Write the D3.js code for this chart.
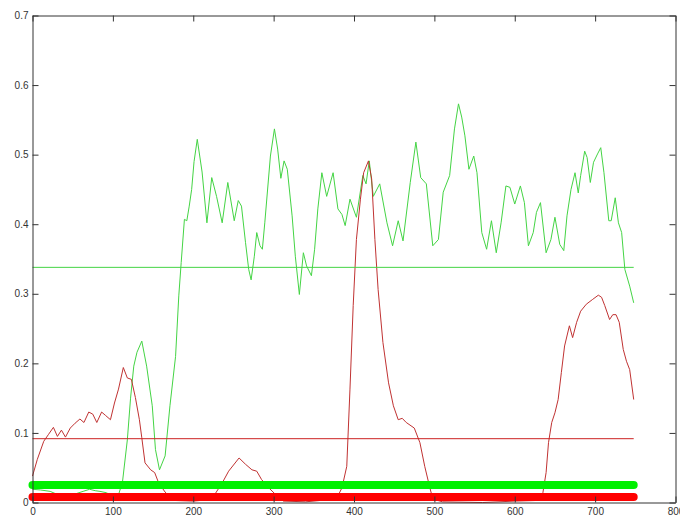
<!DOCTYPE html>
<html>
<head>
<meta charset="utf-8">
<script src="https://cdn.jsdelivr.net/npm/d3@7"></script>
<style>
    body { margin: 0; background: #fff; }
    svg { display: block; }
    .tick text { font-family: "Liberation Sans", Arial, sans-serif; font-size: 10px; fill: #333; }
</style>
</head>
<body>
<svg id="chart" width="680" height="518"></svg>
<script>
// values (x = sample index, y = level)
const greenX = [0, 10, 22, 30, 43, 55, 63, 71, 78, 84, 92, 100, 107, 112, 118, 122, 126, 130, 136, 142, 149, 153, 158, 165, 171, 178, 182, 185, 189, 192, 195, 198, 201, 205, 211, 217, 223, 229, 236, 243, 251, 256, 260, 265, 269, 272, 276, 279, 283, 286, 289, 296, 301, 305, 309, 313, 317, 323, 327, 332, 337, 341, 347, 351, 355, 360, 366, 374, 380, 385, 389, 395, 403, 411, 415, 419, 424, 432, 441, 448, 455, 461, 470, 477, 483, 490, 498, 505, 511, 519, 525, 530, 534, 538, 543, 549, 553, 559, 565, 571, 577, 583, 589, 594, 600, 607, 612, 617, 623, 627, 632, 639, 645, 650, 656, 661, 665, 670, 675, 679, 682, 687, 690, 694, 698, 703, 707, 711, 717, 720, 725, 729, 733, 737, 743, 748];
const greenY = [0.019, 0.018, 0.016, 0.012, 0.009, 0.013, 0.016, 0.019, 0.017, 0.016, 0.014, 0.009, 0.011, 0.030, 0.090, 0.150, 0.196, 0.216, 0.232, 0.196, 0.139, 0.076, 0.047, 0.067, 0.139, 0.210, 0.297, 0.345, 0.407, 0.405, 0.426, 0.450, 0.490, 0.522, 0.475, 0.402, 0.467, 0.440, 0.402, 0.460, 0.405, 0.434, 0.426, 0.374, 0.335, 0.320, 0.354, 0.388, 0.369, 0.364, 0.402, 0.498, 0.537, 0.508, 0.466, 0.491, 0.479, 0.412, 0.354, 0.299, 0.359, 0.340, 0.326, 0.364, 0.422, 0.474, 0.440, 0.474, 0.422, 0.414, 0.398, 0.436, 0.410, 0.470, 0.458, 0.491, 0.440, 0.458, 0.402, 0.369, 0.405, 0.376, 0.460, 0.518, 0.467, 0.458, 0.369, 0.378, 0.446, 0.470, 0.537, 0.573, 0.554, 0.527, 0.479, 0.498, 0.474, 0.388, 0.364, 0.405, 0.359, 0.402, 0.455, 0.453, 0.429, 0.455, 0.431, 0.369, 0.388, 0.417, 0.431, 0.359, 0.378, 0.410, 0.371, 0.362, 0.412, 0.450, 0.474, 0.445, 0.470, 0.505, 0.496, 0.460, 0.489, 0.501, 0.510, 0.474, 0.405, 0.405, 0.438, 0.402, 0.388, 0.335, 0.311, 0.287];

const redX = [0, 6, 14, 20, 26, 31, 36, 41, 47, 53, 59, 64, 70, 75, 80, 86, 91, 97, 102, 107, 113, 118, 123, 128, 133, 136, 140, 147, 152, 157, 165, 175, 200, 220, 227, 236, 244, 257, 265, 273, 279, 285, 294, 302, 312, 340, 378, 385, 391, 395, 399, 403, 408, 412, 418, 422, 426, 430, 436, 443, 449, 455, 460, 465, 475, 482, 488, 494, 498, 510, 560, 600, 630, 635, 639, 642, 646, 650, 654, 658, 662, 668, 672, 677, 682, 689, 697, 704, 708, 712, 718, 722, 726, 730, 735, 739, 743, 748];
const redY = [0.038, 0.062, 0.088, 0.098, 0.108, 0.095, 0.104, 0.094, 0.107, 0.114, 0.120, 0.115, 0.130, 0.127, 0.115, 0.130, 0.125, 0.119, 0.143, 0.163, 0.194, 0.179, 0.177, 0.151, 0.119, 0.093, 0.057, 0.047, 0.043, 0.028, 0.015, 0.003, 0.002, 0.004, 0.012, 0.028, 0.045, 0.064, 0.055, 0.047, 0.045, 0.033, 0.021, 0.012, 0.002, 0.001, 0.005, 0.021, 0.052, 0.163, 0.283, 0.378, 0.436, 0.474, 0.491, 0.465, 0.378, 0.306, 0.230, 0.172, 0.139, 0.119, 0.121, 0.115, 0.107, 0.086, 0.052, 0.023, 0.005, 0.001, 0.000, 0.002, 0.003, 0.014, 0.043, 0.086, 0.115, 0.129, 0.148, 0.187, 0.225, 0.254, 0.237, 0.259, 0.275, 0.285, 0.292, 0.298, 0.295, 0.283, 0.263, 0.270, 0.270, 0.259, 0.220, 0.203, 0.191, 0.148];

// horizontal levels: [start, end] and value
const levelRange = [0, 748];
const greenMean = 0.338;
const redMean = 0.0917;
const greenBand = 0.025;
const redBand = 0.008;

const xTicks = [0, 100, 200, 300, 400, 500, 600, 700, 800];
const yTicks = [0, 0.1, 0.2, 0.3, 0.4, 0.5, 0.6, 0.7];

let svg = d3.select("#chart");
let box = {left: 32.5, right: 675.5, top: 15.5, bottom: 502.5};

let x = d3.scaleLinear().domain([0, 800]).range([box.left, box.right]);
let y = d3.scaleLinear().domain([0, 0.7]).range([box.bottom, box.top]);

let line = d3.line()
    .x((d) => x(d[0]))
    .y((d) => y(d[1]));

let plot = svg.append("g");

// the two signals
plot.append("path")
    .datum(greenX.map((v, i) => [v, greenY[i]]))
    .attr("d", line)
    .attr("fill", "none")
    .attr("stroke", "#44d444")
    .attr("stroke-width", 1);

plot.append("path")
    .datum(redX.map((v, i) => [v, redY[i]]))
    .attr("d", line)
    .attr("fill", "none")
    .attr("stroke", "#c03232")
    .attr("stroke-width", 1);

// mean lines
[[greenMean, "#44d444"], [redMean, "#cc2222"]].forEach(([v, c]) => {
    plot.append("path")
        .datum(levelRange.map((t) => [t, v]))
        .attr("d", line)
        .attr("fill", "none")
        .attr("stroke", c)
        .attr("stroke-width", 1);
});

// thick marker bands
[[greenBand, "#00f000"], [redBand, "#ff0000"]].forEach(([v, c]) => {
    plot.append("path")
        .datum(levelRange.map((t) => [t, v]))
        .attr("d", line)
        .attr("fill", "none")
        .attr("stroke", c)
        .attr("stroke-width", 8)
        .attr("stroke-linecap", "round");
});

// box with inward ticks on all sides (matlab style)
let tickLen = 6;
svg.append("g")
    .attr("transform", "translate(0," + box.bottom + ")")
    .call(d3.axisBottom(x).tickValues(xTicks).tickSizeInner(-tickLen).tickSizeOuter(0).tickPadding(5).tickFormat(d3.format("d")));
svg.append("g")
    .attr("transform", "translate(0," + box.top + ")")
    .call(d3.axisTop(x).tickValues(xTicks).tickSizeInner(-tickLen).tickSizeOuter(0).tickFormat(""));
svg.append("g")
    .attr("transform", "translate(" + box.left + ",0)")
    .call(d3.axisLeft(y).tickValues(yTicks).tickSizeInner(-tickLen).tickSizeOuter(0).tickPadding(4).tickFormat((d) => d === 0 ? "0" : d3.format(".1f")(d)));
svg.append("g")
    .attr("transform", "translate(" + box.right + ",0)")
    .call(d3.axisRight(y).tickValues(yTicks).tickSizeInner(-tickLen).tickSizeOuter(0).tickFormat(""));

svg.selectAll(".domain").attr("stroke", "#333");
svg.selectAll(".tick line").attr("stroke", "#333");
</script>
</body>
</html>
